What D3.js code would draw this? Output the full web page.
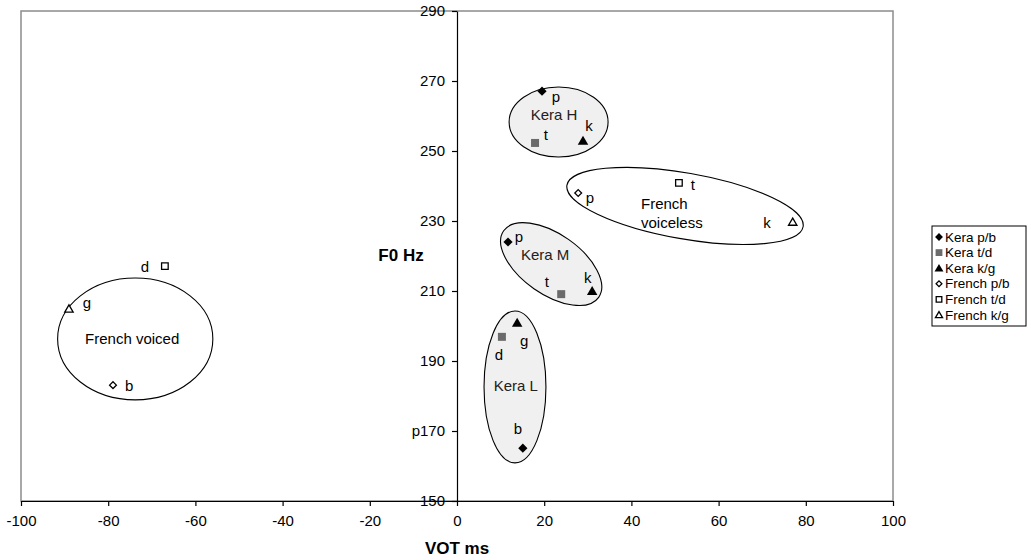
<!DOCTYPE html>
<html><head><meta charset="utf-8">
<script src="https://cdn.jsdelivr.net/npm/d3@7"></script>
<style>
body{margin:0;background:#fff;}
text{font-family:"Liberation Sans",Arial,sans-serif;}
</style></head>
<body><svg id="c" width="1031" height="560"></svg>
<script>
// ---- data ----
const xTicks = [-100,-80,-60,-40,-20,0,20,40,60,80,100];
const yTicks = [150,170,190,210,230,250,270,290];
const yTickLabels = ["150","p170","190","210","230","250","270","290"];
const seriesNames = ["Kera p/b","Kera t/d","Kera k/g","French p/b","French t/d","French k/g"];
const keraPB = [[19.5,267.1],[11.7,224.0],[15.1,165.1]];
const keraTD = [[17.9,252.3],[23.9,209.1],[10.3,196.9]];
const keraKG = [[28.9,252.9],[31.0,210.0],[13.8,200.9]];
const frenchPB = [[27.8,238.0],[-78.9,183.1]];
const frenchTD = [[50.9,240.9],[-67.0,217.1]];
const frenchKG = [[77.0,229.7],[-89.0,204.9]];
// group ellipses: centre (x,y), semi-axes in x-units / y-units, rotation deg
const groupNames = ["French voiced","Kera H","French voiceless","Kera M","Kera L"];
const groupCx = [-73.8, 23.3, 52.3, 21.6, 13.3];
const groupCy = [196.3, 258.3, 234.3, 217.7, 182.6];
const groupA  = [17.8, 11.35, 27.5, 13.3, 7.1];
const groupB  = [17.4, 10.0, 9.4, 8.6, 21.7];
const groupRot = [0, 0, 10, 35, 0];
const groupShaded = [false, true, false, true, true];
// text annotations
const noteText = ["Kera H","p","t","k",
  "p","t","French","voiceless","k",
  "p","Kera M","t","k",
  "g","d","Kera L","b",
  "d","g","French voiced","b"];
const noteX = [22.25,22.7,20.4,30.3, 30.5,54.1,42.2,42.2,71.1, 14.2,20.2,20.6,30.0, 15.4,9.6,13.5,14.0, -71.6,-84.9,-74.5,-75.2];
const noteY = [260.3,265.7,254.6,257.4, 236.6,240.3,235.1,229.7,229.7, 225.7,220.3,212.6,214.0, 196.0,192.0,183.1,170.6, 216.9,206.6,196.3,182.9];
const noteStart = [false,false,false,false, false,false,true,true,false, false,false,false,false, false,false,false,false, false,false,false,false];

// ---- layout ----
const L=21, R=893, T=11, B=501;
const svg = d3.select("#c");
const x = d3.scaleLinear().domain([-100,100]).range([L,R]);
const y = d3.scaleLinear().domain([150,290]).range([B,T]);

// plot area border
svg.append("rect").attr("x",L).attr("y",T).attr("width",R-L).attr("height",B-T)
  .attr("fill","#fff").attr("stroke","#8c8c8c").attr("stroke-width",1.5);

// ellipses
groupNames.forEach((g,i)=>{
  const cx=x(groupCx[i]), cy=y(groupCy[i]);
  const rx=x(groupCx[i]+groupA[i])-cx, ry=cy-y(groupCy[i]+groupB[i]);
  svg.append("ellipse").attr("cx",0).attr("cy",0).attr("rx",rx).attr("ry",ry)
    .attr("transform",`translate(${cx},${cy}) rotate(${groupRot[i]})`)
    .attr("fill",groupShaded[i]?"#f0f0f0":"#fff").attr("stroke","#000").attr("stroke-width",1.1);
});

// axes
const fmt = d => String(d);
const xAxis = svg.append("g").attr("transform",`translate(0,${B})`)
  .call(d3.axisBottom(x).tickValues(xTicks).tickSize(5).tickSizeOuter(0).tickFormat(fmt));
const yAxis = svg.append("g").attr("transform",`translate(${x(0)},0)`)
  .call(d3.axisLeft(y).tickValues(yTicks).tickSize(5).tickSizeOuter(0).tickFormat((d,i)=>yTickLabels[i]));
[xAxis,yAxis].forEach(a=>{
  a.select(".domain").attr("stroke","#000").attr("stroke-width",1.2);
  a.selectAll(".tick line").attr("stroke","#000").attr("stroke-width",1.2);
  a.selectAll(".tick text").attr("font-size",15).attr("fill","#000")
   .attr("font-family","'Liberation Sans',Arial,sans-serif");
});
xAxis.selectAll(".tick text").attr("dy","1.1em");
yAxis.selectAll(".tick text").attr("x",-12);

// axis titles
svg.append("text").attr("x",x(0)).attr("y",554).attr("text-anchor","middle")
  .attr("font-size",17).attr("font-weight","bold").text("VOT ms");
svg.append("text").attr("x",401).attr("y",261).attr("text-anchor","middle")
  .attr("font-size",17).attr("font-weight","bold").text("F0 Hz");

// marker shapes
const diamond = r => `M0,${-r}L${r},0L0,${r}L${-r},0Z`;
const square = r => `M${-r},${-r}H${r}V${r}H${-r}Z`;
const tri = r => `M0,${-r}L${r*1.05},${r*0.8}H${-r*1.05}Z`;
const markers = [
  {path:diamond(4.6), fill:"#000", stroke:"none"},
  {path:square(4), fill:"#6b6b6b", stroke:"none"},
  {path:tri(5), fill:"#000", stroke:"none"},
  {path:diamond(3.4), fill:"#fff", stroke:"#000"},
  {path:square(3.3), fill:"#fff", stroke:"#000"},
  {path:tri(4), fill:"#fff", stroke:"#000"}
];
const allSeries = [keraPB,keraTD,keraKG,frenchPB,frenchTD,frenchKG];
function drawMarker(g, m, px, py, k){
  g.append("path").attr("d",m.path)
   .attr("transform",`translate(${px},${py}) scale(${k||1})`)
   .attr("fill",m.fill).attr("stroke",m.stroke).attr("stroke-width",1.3/(k||1));
}
const pts = svg.append("g");
allSeries.forEach((s,i)=>s.forEach(d=>drawMarker(pts, markers[i], x(d[0]), y(d[1]))));

// annotations
noteText.forEach((t,i)=>{
  const shaded = ["Kera H","Kera M","Kera L"].includes(t);
  svg.append("text").attr("x",x(noteX[i])).attr("y",y(noteY[i]))
    .attr("dominant-baseline","central")
    .attr("text-anchor",noteStart[i]?"start":"middle")
    .attr("font-size",15).attr("fill",shaded?"#222":"#000").text(t);
});

// legend
const lg = svg.append("g");
const lx=932, ly=226, lw=94, lh=100;
lg.append("rect").attr("x",lx).attr("y",ly).attr("width",lw).attr("height",lh)
  .attr("fill","#fff").attr("stroke","#000").attr("stroke-width",1);
seriesNames.forEach((n,i)=>{
  const yy = ly+11+i*15.6;
  drawMarker(lg, markers[i], lx+7, yy, 0.85);
  lg.append("text").attr("x",lx+13).attr("y",yy).attr("dominant-baseline","central")
    .attr("font-size",13.5).text(n);
});
</script></body></html>
